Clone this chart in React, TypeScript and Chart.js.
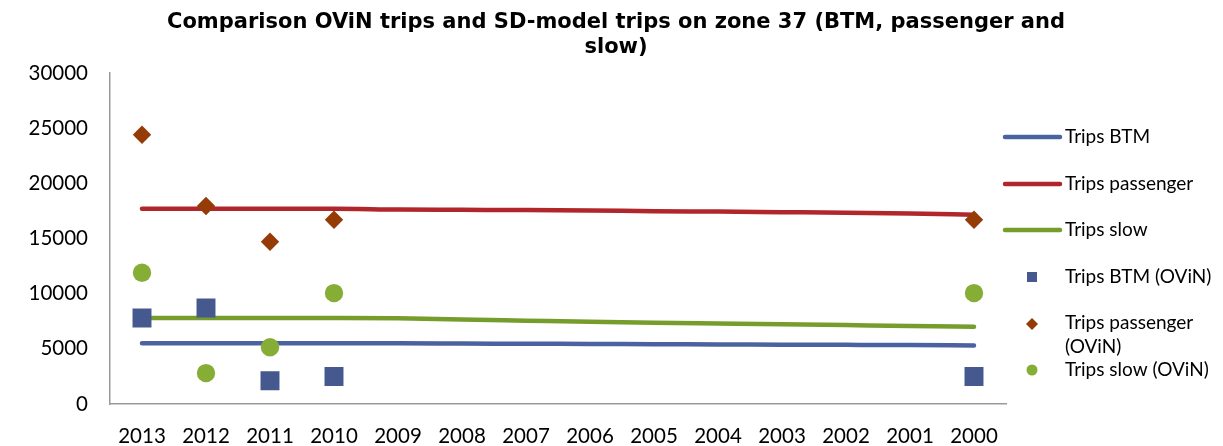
import { useEffect, useRef } from 'react';
import { Chart, registerables } from 'chart.js';
Chart.register(...registerables);

const years = ['2013', '2012', '2011', '2010', '2009', '2008', '2007', '2006', '2005', '2004', '2003', '2002', '2001', '2000'];
const tripsBTM = [5500, 5500, 5500, 5500, 5500, 5480, 5460, 5440, 5420, 5400, 5380, 5360, 5340, 5300];
const tripsPassenger = [17700, 17700, 17700, 17700, 17620, 17600, 17580, 17540, 17480, 17440, 17390, 17340, 17260, 17150];
const tripsSlow = [7800, 7800, 7800, 7800, 7770, 7650, 7550, 7450, 7370, 7300, 7230, 7150, 7070, 7000];
const tripsBTMOvin = [7800, 8700, 2100, 2500, null, null, null, null, null, null, null, null, null, 2500];
const tripsPassengerOvin = [24400, 17950, 14700, 16700, null, null, null, null, null, null, null, null, null, 16700];
const tripsSlowOvin = [11900, 2800, 5150, 10050, null, null, null, null, null, null, null, null, null, 10050];
const titleLines = ['Comparison OViN trips and SD-model trips on zone 37 (BTM, passenger and', 'slow)'];
const yTicks = [0, 5000, 10000, 15000, 20000, 25000, 30000];

const BLUE_LINE = '#4A63A0';
const RED_LINE = '#B0262A';
const GREEN_LINE = '#769D2C';
const BLUE_PT = '#46598F';
const RED_PT = '#953C06';
const GREEN_PT = '#86AE36';

const TICK_FONT = { family: 'Lato', size: 20.5 };

const overlayPlugin = {
  id: 'overlay',
  afterDraw(chart: any) {
    const ctx = chart.ctx as CanvasRenderingContext2D;
    ctx.save();
    // title
    ctx.fillStyle = '#000';
    ctx.font = 'bold 21px "DejaVu Sans"';
    ctx.textAlign = 'center';
    ctx.textBaseline = 'middle';
    ctx.fillText(titleLines[0], 616, 23);
    ctx.fillText(titleLines[1], 616, 48);

    // legend
    const lx1 = 1005, lx2 = 1060, tx = 1065, mx = 1032;
    ctx.textAlign = 'left';
    ctx.font = '19px Lato';
    ctx.lineCap = 'round';
    ctx.lineWidth = 4.5;
    const lines = [
      { label: chart.data.datasets[3].label, color: BLUE_LINE, y: 137 },
      { label: chart.data.datasets[4].label, color: RED_LINE, y: 184 },
      { label: chart.data.datasets[5].label, color: GREEN_LINE, y: 230 },
    ];
    for (const l of lines) {
      ctx.strokeStyle = l.color;
      ctx.beginPath();
      ctx.moveTo(lx1, l.y);
      ctx.lineTo(lx2, l.y);
      ctx.stroke();
      ctx.fillStyle = '#000';
      ctx.fillText(l.label, tx, l.y);
    }
    // square
    ctx.fillStyle = BLUE_PT;
    ctx.fillRect(mx - 5, 277 - 5, 10, 10);
    ctx.fillStyle = '#000';
    ctx.fillText(chart.data.datasets[0].label, tx, 277);
    // diamond
    ctx.fillStyle = RED_PT;
    ctx.beginPath();
    ctx.moveTo(mx, 324 - 6);
    ctx.lineTo(mx + 6, 324);
    ctx.lineTo(mx, 324 + 6);
    ctx.lineTo(mx - 6, 324);
    ctx.closePath();
    ctx.fill();
    ctx.fillStyle = '#000';
    ctx.fillText('Trips passenger', tx, 323);
    ctx.fillText('(OViN)', tx, 347);
    // circle
    ctx.fillStyle = GREEN_PT;
    ctx.beginPath();
    ctx.arc(mx, 370, 5.5, 0, Math.PI * 2);
    ctx.fill();
    ctx.fillStyle = '#000';
    ctx.fillText(chart.data.datasets[2].label, tx, 370);
    ctx.restore();
  },
};

export default function App() {
  const ref = useRef<HTMLCanvasElement>(null);
  useEffect(() => {
    document.body.style.margin = '0';
    const lineDs = (label: string, data: number[], color: string) => ({
      type: 'line' as const,
      label,
      data,
      borderColor: color,
      backgroundColor: color,
      borderWidth: 4.5,
      borderCapStyle: 'round' as const,
      pointRadius: 0,
      pointHoverRadius: 0,
      tension: 0.4,
      cubicInterpolationMode: 'monotone' as const,
      fill: false,
      order: 2,
    });
    const ptDs = (label: string, data: (number | null)[], color: string, style: string, r: number) => ({
      type: 'line' as const,
      label,
      data,
      showLine: false,
      borderColor: color,
      backgroundColor: color,
      pointBackgroundColor: color,
      pointBorderColor: color,
      pointBorderWidth: 0,
      pointStyle: style,
      pointRadius: r,
      pointHoverRadius: r,
      order: 1,
    });
    const chart = new Chart(ref.current!, {
      type: 'line',
      data: {
        labels: years,
        datasets: [
          ptDs('Trips BTM (OViN)', tripsBTMOvin, BLUE_PT, 'rect', 13.4),
          ptDs('Trips passenger (OViN)', tripsPassengerOvin, RED_PT, 'rectRot', 9.2),
          ptDs('Trips slow (OViN)', tripsSlowOvin, GREEN_PT, 'circle', 9.2),
          lineDs('Trips BTM', tripsBTM, BLUE_LINE),
          lineDs('Trips passenger', tripsPassenger, RED_LINE),
          lineDs('Trips slow', tripsSlow, GREEN_LINE),
        ] as any,
      },
      options: {
        animation: false,
        responsive: true,
        maintainAspectRatio: false,
        layout: { padding: { top: 73, right: 217, left: 0, bottom: 0 } },
        plugins: {
          legend: { display: false },
          title: { display: false },
          tooltip: { enabled: false },
        },
        scales: {
          x: {
            offset: true,
            grid: { display: false, drawTicks: false },
            border: { display: true, color: '#9a9a9a', width: 1.5 },
            ticks: { color: '#000', font: TICK_FONT, padding: 20, maxRotation: 0, autoSkip: false },
            afterFit: (s: any) => { s.height = 42; },
          },
          y: {
            min: 0,
            max: 30000,
            grid: { display: false, drawTicks: false },
            border: { display: true, color: '#9a9a9a', width: 1.5 },
            ticks: { color: '#000', font: TICK_FONT, padding: 22, callback: (v: any) => String(v) },
            afterBuildTicks: (s: any) => { s.ticks = yTicks.map((v) => ({ value: v })); },
            afterFit: (s: any) => { s.width = 110; },
          },
        },
      },
      plugins: [overlayPlugin],
    });
    return () => chart.destroy();
  }, []);
  return (
    <div style={{ position: 'relative', width: 1223, height: 446 }}>
      <canvas ref={ref} />
    </div>
  );
}
